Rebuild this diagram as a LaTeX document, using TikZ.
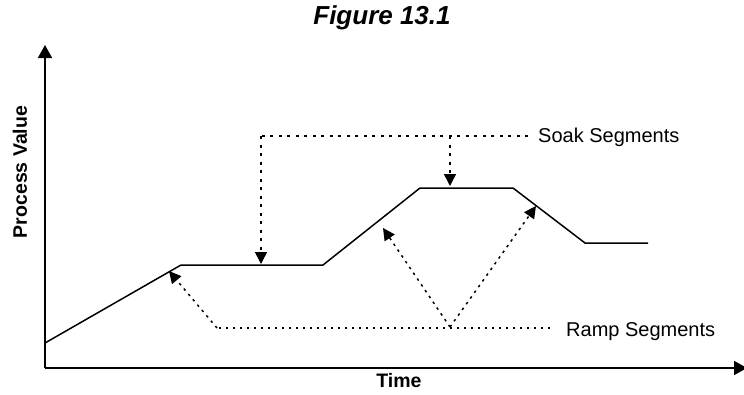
\documentclass[tikz,border=0pt]{standalone}
\usepackage{fontspec}
\setmainfont{Liberation Sans}
\usetikzlibrary{arrows.meta}
\begin{document}
\begin{tikzpicture}[x=1pt,y=-1pt,
  axis/.style={line width=1.5pt,-{Triangle[length=13pt,width=14pt]}},
  profile/.style={line width=1.5pt,line join=miter},
  soakdash/.style={line width=1.5pt,dash pattern=on 3pt off 5.5pt},
  rampdash/.style={line width=1.5pt,dash pattern=on 2.5pt off 4.5pt},
  tip/.style={-{Triangle[length=12pt,width=12pt]}},
  label/.style={font=\fontsize{20}{24}\selectfont,inner sep=0pt},
  axlabel/.style={font=\fontsize{19.5}{22}\selectfont\bfseries,inner sep=0pt}]
\useasboundingbox (0,0) rectangle (744,394);

% title
\node[font=\fontsize{26}{30}\selectfont\bfseries\itshape,inner sep=0pt] (title) at (382,18) {Figure 13.1};

% axes
\coordinate (origin) at (45,368);
\coordinate (ytop) at (45,45);
\coordinate (xend) at (747,368);
\draw[axis] (origin) -- (ytop);
\draw[axis] (origin) -- (xend);
\node[axlabel] (tlabel) at (399,381) {Time};
\node[axlabel,rotate=90] (plabel) at (20,172) {Process Value};

% set-point profile
\coordinate (p0) at (45,343);
\coordinate (p1) at (181,265);
\coordinate (p2) at (323,265);
\coordinate (p3) at (420,188);
\coordinate (p4) at (513,188);
\coordinate (p5) at (585,243);
\coordinate (p6) at (648,243);
\draw[profile] (p0) -- (p1) -- (p2) -- (p3) -- (p4) -- (p5) -- (p6);

% soak segment call-outs
\node[label,anchor=west] (soak) at (538,137) {Soak Segments};
\coordinate (sc) at (261,136);
\coordinate (sb) at (450,136);
\coordinate (s1) at (261,264);
\coordinate (s2) at (450,186);
\draw[soakdash] ([xshift=-10pt]soak.west |- sc) -- (sc);
\draw[soakdash,tip] (sc) -- (s1);
\draw[soakdash,tip] (sb) -- (s2);

% ramp segment call-outs
\node[label,anchor=west] (ramp) at (566,332) {Ramp Segments};
\coordinate (rc) at (217,328);
\coordinate (rv) at (450,327);
\coordinate (r1) at (169,271);
\coordinate (r2) at (383,228);
\coordinate (r3) at (536,206);
\draw[rampdash] ([xshift=-16pt]ramp.west |- rc) -- (rc);
\draw[rampdash,tip] (rc) -- (r1);
\draw[rampdash,tip] (rv) -- (r2);
\draw[rampdash,tip] (rv) -- (r3);
\end{tikzpicture}
\end{document}
